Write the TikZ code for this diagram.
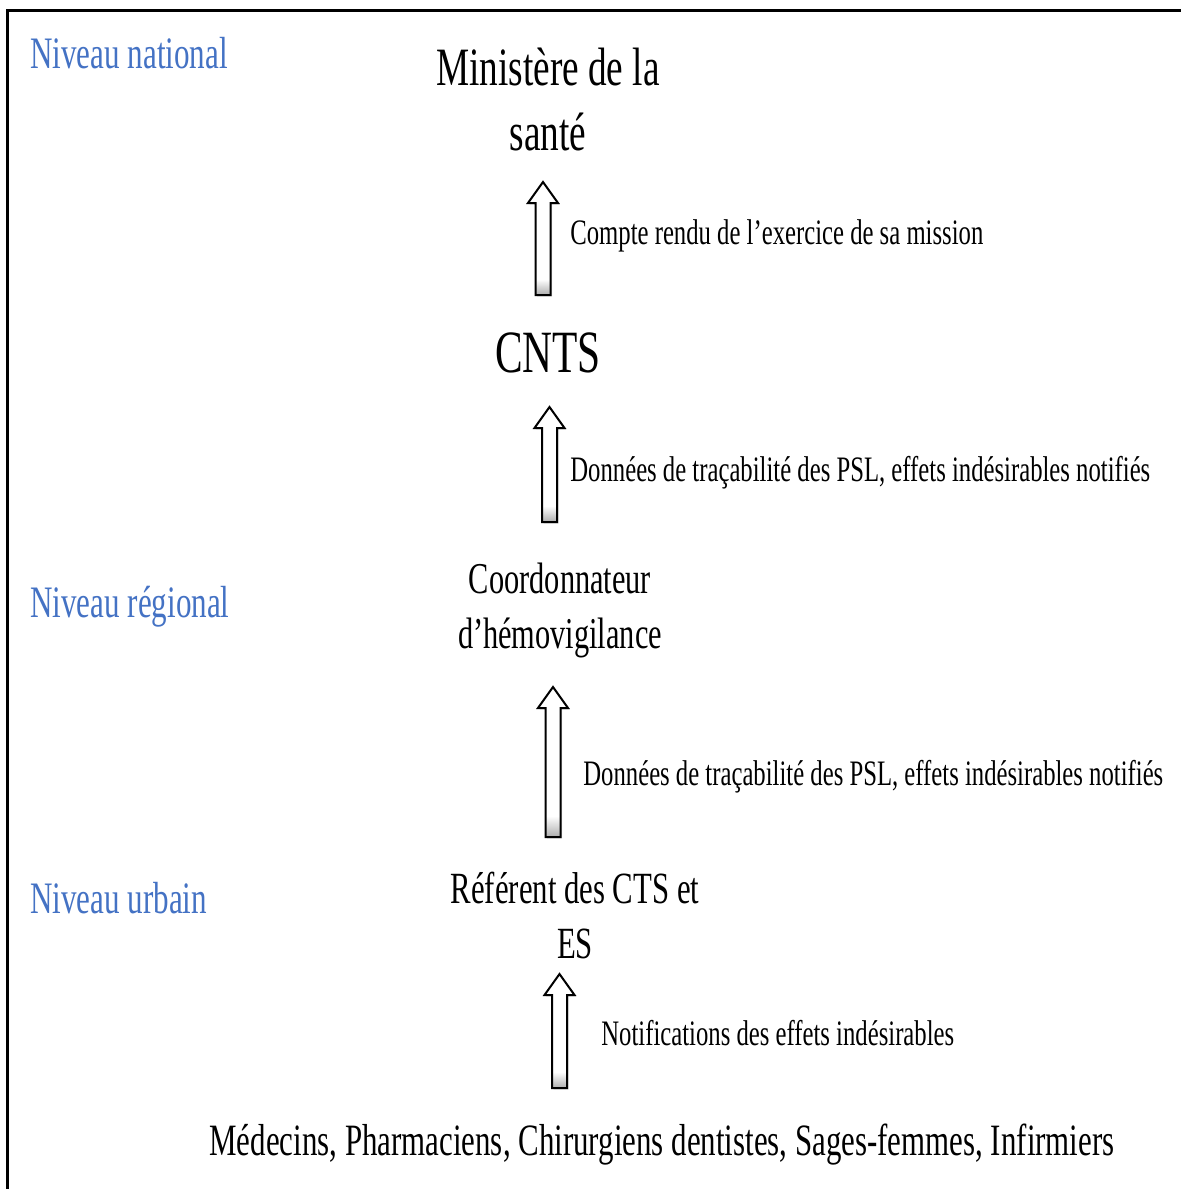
\documentclass[tikz,border=0pt]{standalone}
\usepackage{fontspec}
\setmainfont[FakeStretch=0.69]{Liberation Serif}
\usetikzlibrary{calc,shadows}
\definecolor{lvlblue}{RGB}{68,114,196}
\pgfdeclareverticalshading{arrowshade}{100bp}{color(0bp)=(gray!65); color(25bp)=(gray!65); color(32bp)=(white); color(100bp)=(white)}
\tikzset{
  lvl/.style={anchor=base west, inner sep=0pt, text=lvlblue, font=\fontsize{22.5}{27}\selectfont},
  entity/.style={anchor=base, inner sep=0pt, align=center},
  flowlabel/.style={anchor=base west, inner sep=0pt, font=\fontsize{17.9}{21}\selectfont},
  blockarr/.style={draw=black, line width=1pt, shading=arrowshade,
    drop shadow={opacity=0.25, shadow xshift=0.8pt, shadow yshift=-0.8pt}},
  borderline/.style={line width=1.5pt}
}
\newcommand{\blockarrow}[2]{%
  \path[blockarr] ($(#1)+(-7.5,0)$) -- ($(#2)+(-7.5,21)$) -- ($(#2)+(-15,21)$) -- (#2)
    -- ($(#2)+(15,21)$) -- ($(#2)+(7.5,21)$) -- ($(#1)+(7.5,0)$) -- cycle;}
\begin{document}
\begin{tikzpicture}[x=0.5pt,y=-0.5pt]
\useasboundingbox (0,0) rectangle (1181,1189);
\draw[borderline] (7,1189) -- (7,10) -- (1181,10);

% level labels
\node[lvl] (natl) at (30,68) {Niveau national};
\node[lvl] (regl) at (30,617) {Niveau régional};
\node[lvl] (urb) at (30,913) {Niveau urbain};

% entities (base = baseline of the last line)
\node[entity, font=\fontsize{27}{32.5}\selectfont] (min) at (548,150) {Ministère de la\\santé};
\node[entity, font=\fontsize{30}{36}\selectfont] (cnts) at (548,372) {CNTS};
\node[entity, font=\fontsize{22}{27.5}\selectfont] (coord) at (560,648) {Coordonnateur\\d’hémovigilance};
\node[entity, font=\fontsize{22.3}{27.5}\selectfont] (ref) at (575,958) {Référent des CTS et\\ES};
\node[entity, font=\fontsize{22.4}{27}\selectfont] (med) at (662,1155) {Médecins, Pharmaciens, Chirurgiens dentistes, Sages-femmes, Infirmiers};

% flow labels
\node[flowlabel] (l1) at (570,244) {Compte rendu de l’exercice de sa mission};
\node[flowlabel] (l2) at (570,481) {Données de traçabilité des PSL, effets indésirables notifiés};
\node[flowlabel] (l3) at (583,785) {Données de traçabilité des PSL, effets indésirables notifiés};
\node[flowlabel] (l4) at (601,1045) {Notifications des effets indésirables};

% arrows
\coordinate (a1t) at (543,182);   \coordinate (a1b) at (543,295);
\coordinate (a2t) at (549.5,407); \coordinate (a2b) at (549.5,522);
\coordinate (a3t) at (553,687);   \coordinate (a3b) at (553,837);
\coordinate (a4t) at (559.5,974); \coordinate (a4b) at (559.5,1088);
\blockarrow{a1b}{a1t}
\blockarrow{a2b}{a2t}
\blockarrow{a3b}{a3t}
\blockarrow{a4b}{a4t}
\end{tikzpicture}
\end{document}
